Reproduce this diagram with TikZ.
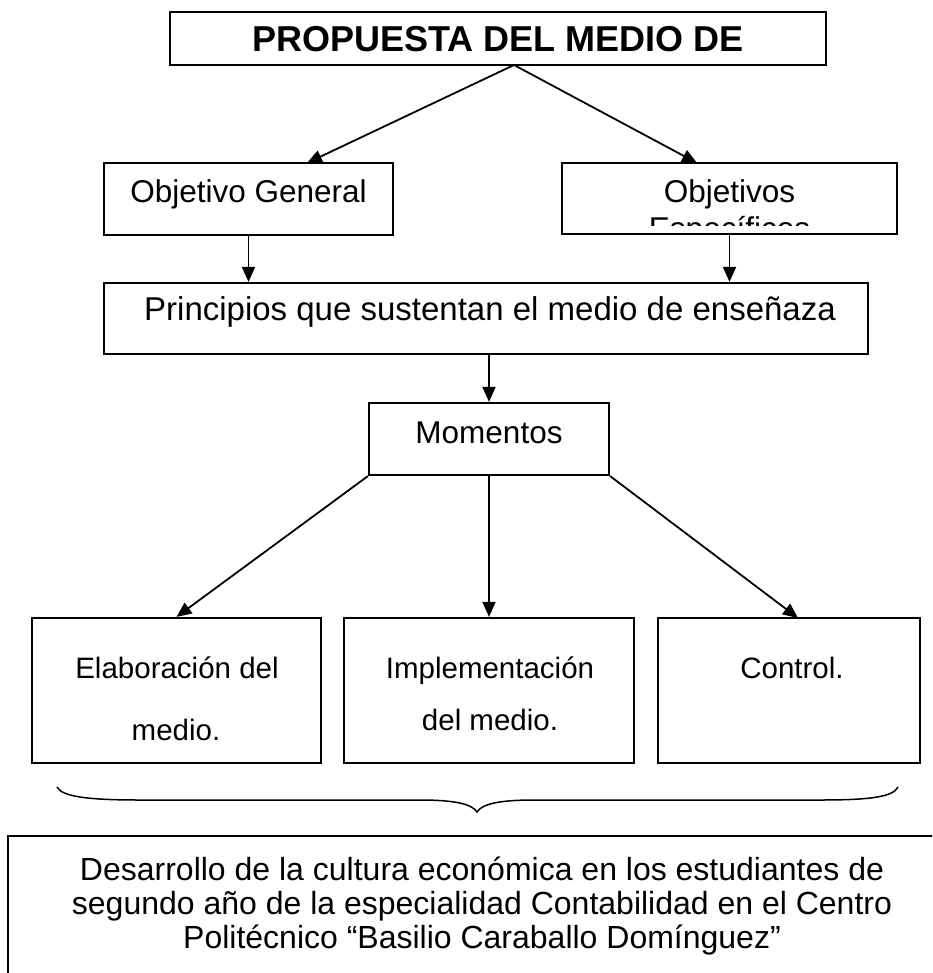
\documentclass[tikz,border=0pt]{standalone}
\usepackage{fontspec}
\setmainfont{Liberation Sans}
\usetikzlibrary{arrows.meta}
\begin{document}
\begin{tikzpicture}[x=1pt,y=-1pt,
  box/.style={draw, line width=2.2pt, rectangle, inner sep=0pt},
  txt/.style={anchor=base, inner sep=0pt, font=\fontsize{31.5}{36}\selectfont},
  txtb/.style={anchor=base, inner sep=0pt, font=\fontsize{29.5}{34}\selectfont},
  txtc/.style={anchor=base, inner sep=0pt, font=\fontsize{32}{36}\selectfont},
  arr/.style={line width=1.8pt, -{Triangle[length=15pt,width=13pt]}},
  bracestyle/.style={line width=1.5pt},
]
\useasboundingbox (0,0) rectangle (932,973);
\clip (0,0) rectangle (932,973);

% boxes
\node[box, minimum width=656pt, minimum height=53pt] (top) at (498,38.5) {};
\node[box, minimum width=289pt, minimum height=72pt] (og) at (248.5,199) {};
\node[box, minimum width=335pt, minimum height=71pt] (oe) at (729.5,198.5) {};
\node[box, minimum width=764pt, minimum height=71pt] (pr) at (486,318.5) {};
\node[box, minimum width=240pt, minimum height=72pt] (mo) at (489,439) {};
\node[box, minimum width=289pt, minimum height=145pt] (el) at (176.5,690.5) {};
\node[box, minimum width=290pt, minimum height=145pt] (im) at (489,690.5) {};
\node[box, minimum width=262pt, minimum height=145pt] (co) at (789,690.5) {};
\node[box, minimum width=952pt, minimum height=174pt] (res) at (484,923) {};

% texts
\node[anchor=base, inner sep=0pt, font=\fontsize{36}{40}\selectfont\bfseries] (topt) at (498,52) {PROPUESTA DEL MEDIO DE};
\node[txt] (ogt) at (248.5,203) {Objetivo General};
\node[txt] (oet1) at (729.5,203) {Objetivos};
\begin{scope}
  \clip (563,164) rectangle (896,226);
  \node[txt] (oet2) at (729.5,240) {Específicos};
\end{scope}
\node[anchor=base, inner sep=0pt, font=\fontsize{33}{36}\selectfont] (prt) at (490,320) {Principios que sustentan el medio de enseñaza};
\node[txt] (mot) at (489,443) {Momentos};
\node[txtb] (elt1) at (177,678) {Elaboración del};
\node[txtb] (elt2) at (176,740) {medio.};
\node[txtb] (imt1) at (490,678) {Implementación};
\node[txtb] (imt2) at (490,730) {del medio.};
\node[txtb] (cot) at (792,678) {Control.};
\node[txtc] (rest1) at (482,880) {Desarrollo de la cultura económica en los estudiantes de};
\node[txtc] (rest2) at (482,914) {segundo año de la especialidad Contabilidad en el Centro};
\node[txtc] (rest3) at (482,948) {Politécnico “Basilio Caraballo Domínguez”};

% connectors
\coordinate (apx) at (514,65);
\coordinate (ogin) at (307,163);
\coordinate (oein) at (697,163);
\coordinate (coin) at (798,618);
\draw[arr] (apx) -- (ogin);
\draw[arr] (apx) -- (oein);
\draw[arr] (og.south) -- (og.south |- pr.north);
\draw[arr] (oe.south) -- (oe.south |- pr.north);
\draw[arr] (mo.north |- pr.south) -- (mo.north);
\draw[arr] (mo.south west) -- (el.north);
\draw[arr] (mo.south) -- (im.north);
\draw[arr] (mo.south east) -- (coin);

% brace
\coordinate (brl) at (57,787);
\coordinate (brt) at (477,812);
\coordinate (brr) at (898,787);
\draw[bracestyle] (brl) .. controls (62,797) and (90,800) .. (140,800) -- (420,800)
  .. controls (455,800) and (472,804) .. (brt)
  .. controls (482,804) and (499,800) .. (534,800) -- (820,800)
  .. controls (870,800) and (893,797) .. (brr);
\end{tikzpicture}
\end{document}
